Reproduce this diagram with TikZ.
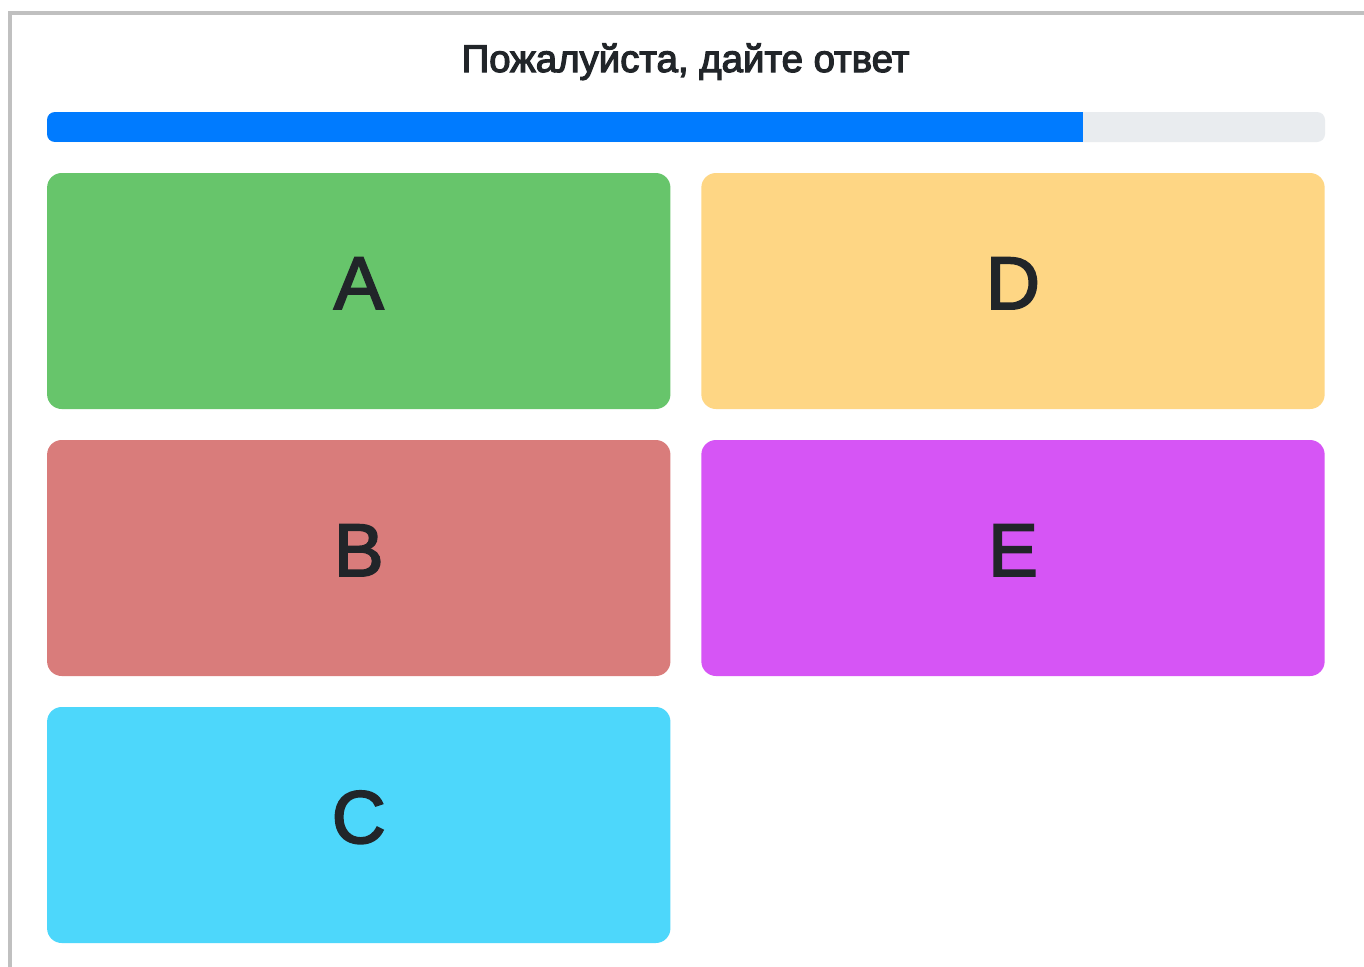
\documentclass[tikz,border=0pt]{standalone}
\usepackage{fontspec}
\setmainfont{Liberation Sans}
\newfontfamily\medfont[FakeBold=2.5]{Liberation Sans}
\newfontfamily\titlefont[FakeBold=3.2]{Liberation Sans}
\definecolor{txt}{HTML}{212529}
\definecolor{frame}{HTML}{C0C0C0}
\definecolor{barblue}{HTML}{007BFF}
\definecolor{bartrack}{HTML}{E9ECEF}
\definecolor{cgreen}{HTML}{67C56B}
\definecolor{cyellow}{HTML}{FED684}
\definecolor{cred}{HTML}{D97C7B}
\definecolor{cpurple}{HTML}{D655F5}
\definecolor{ccyan}{HTML}{4DD7FB}
\tikzset{
  card/.style={draw=none, rounded corners=11pt, minimum width=467.5pt, minimum height=177pt, inner sep=0pt},
  letter/.style={anchor=base, text=txt, inner sep=0pt, font=\medfont\fontsize{56}{60}\selectfont},
}
\begin{document}
\begin{tikzpicture}[x=0.75pt, y=-0.75pt]
\useasboundingbox (0,0) rectangle (1364,967);
\fill[white] (0,0) rectangle (1364,967);
% frame
\draw[frame, line width=3pt] (10.3,967) -- (10.3,12.7) -- (1364,12.7);
% title
\node[anchor=base, text=txt, inner sep=0pt, font=\titlefont\fontsize{28.8}{32}\selectfont] (title) at (685.5,72) {Пожалуйста, дайте ответ};
% progress bar
\fill[bartrack, rounded corners=6pt] (47,112) rectangle (1325,142);
\begin{scope}
\clip[rounded corners=6pt] (47,112) rectangle (1325,142);
\fill[barblue] (47,112) rectangle (1083,142);
\end{scope}
% cards
\node[card, fill=cgreen] (cardA) at (358.75,291) {};
\node[card, fill=cyellow] (cardD) at (1013,291) {};
\node[card, fill=cred] (cardB) at (358.75,558) {};
\node[card, fill=cpurple] (cardE) at (1013,558) {};
\node[card, fill=ccyan] (cardC) at (358.75,825) {};
% letters
\node[letter] (labA) at (358.75,309) {A};
\node[letter] (labD) at (1013,309) {D};
\node[letter] (labB) at (358.75,576) {B};
\node[letter] (labE) at (1013,576) {E};
\node[letter] (labC) at (358.75,843) {C};
\end{tikzpicture}
\end{document}
